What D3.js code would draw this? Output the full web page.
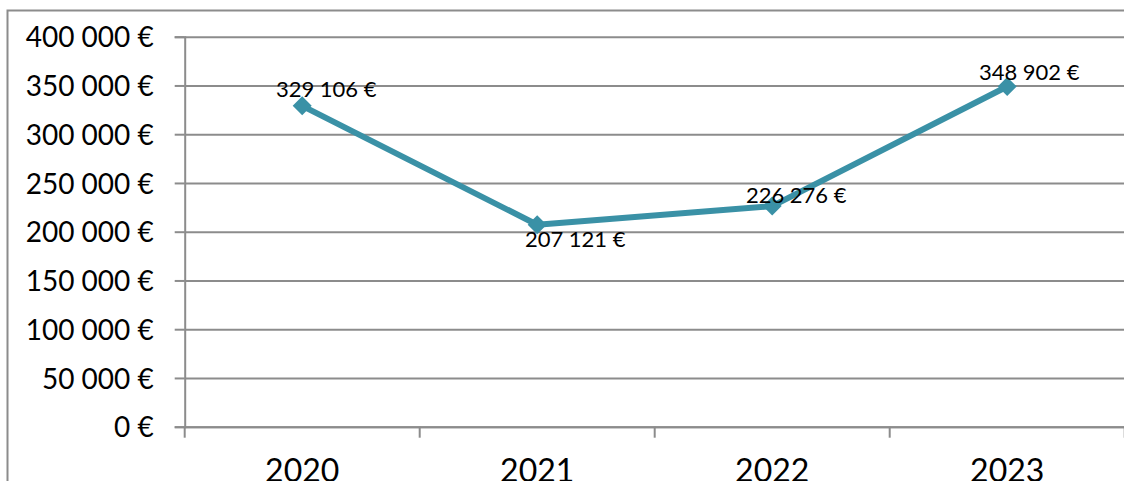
<!DOCTYPE html>
<html>
<head>
<meta charset="utf-8">
<script src="https://cdn.jsdelivr.net/npm/d3@7"></script>
<style>
  body { margin: 0; background: #fff; }
  svg { display: block; }
  svg text { font-family: Lato, "Open Sans", sans-serif; }
</style>
</head>
<body>
<div id="chart"></div>
<script>
// data
const years = ["2020", "2021", "2022", "2023"]
const revenue = [329106, 207121, 226276, 348902]
const yTicks = [0, 50000, 100000, 150000, 200000, 250000, 300000, 350000, 400000]

// label offsets (layout only)
const labelDx = [24, 38, 24, 22]
const labelDy = [-9, 22, -3, -7]

const W = 1124, H = 481
const plot = {left: 184.7, right: 1124.7, top: 36.7, bottom: 426.7}

const loc = d3.formatLocale({decimal: ",", thousands: "\u00a0", grouping: [3], currency: ["", "\u00a0€"]})
const fmt = loc.format("$,.0f")

const svg = d3.select("#chart").append("svg")
    .attr("width", W)
    .attr("height", H)

// outer frame
svg.append("rect")
    .attr("x", 7.5).attr("y", 10.5)
    .attr("width", W + 20).attr("height", H + 20)
    .attr("fill", "none")
    .attr("stroke", "#8c8c8c")
    .attr("stroke-width", 2)

const x = d3.scaleBand().domain(years).range([plot.left, plot.right])
const y = d3.scaleLinear().domain([0, 400000]).range([plot.bottom, plot.top])

// grid
svg.append("g")
    .attr("transform", `translate(${plot.left},0)`)
    .call(d3.axisLeft(y).tickValues(yTicks).tickSize(-(plot.right - plot.left)).tickFormat(""))
    .call(g => g.select(".domain").remove())
    .call(g => g.selectAll("line").attr("stroke", "#8c8c8c").attr("stroke-width", 2))

// y axis
const yAxis = svg.append("g")
    .attr("transform", `translate(${plot.left},0)`)
    .call(d3.axisLeft(y).tickValues(yTicks).tickSize(10).tickPadding(21).tickFormat(fmt))
    .attr("font-family", null)
yAxis.select(".domain").attr("stroke", "#8c8c8c").attr("stroke-width", 2)
yAxis.selectAll("line").attr("stroke", "#8c8c8c").attr("stroke-width", 2)
yAxis.selectAll("text")
    .attr("fill", "#000")
    .attr("font-size", 28)
    .attr("dy", "0.36em")

// x axis
const xAxis = svg.append("g")
    .attr("transform", `translate(0,${plot.bottom})`)
    .call(d3.axisBottom(x).tickSize(0).tickPadding(0))
    .attr("font-family", null)
xAxis.select(".domain").attr("stroke", "#8c8c8c").attr("stroke-width", 2)
xAxis.selectAll("text")
    .attr("fill", "#000")
    .attr("font-size", 32)
    .attr("y", 55)
    .attr("dy", 0)
// tick marks between categories
xAxis.selectAll(".sep")
    .data(d3.range(years.length + 1))
    .join("line")
    .attr("class", "sep")
    .attr("x1", i => plot.left + i * x.step())
    .attr("x2", i => plot.left + i * x.step())
    .attr("y1", 0).attr("y2", 11)
    .attr("stroke", "#8c8c8c")
    .attr("stroke-width", 2)

const cx = d => x(d) + x.bandwidth() / 2
const color = "#3a91a6"

const line = d3.line()
    .x((d, i) => cx(years[i]))
    .y(d => y(d))

svg.append("path")
    .datum(revenue)
    .attr("d", line)
    .attr("fill", "none")
    .attr("stroke", color)
    .attr("stroke-width", 6)
    .attr("stroke-linejoin", "round")

svg.append("g")
    .selectAll("path")
    .data(revenue)
    .join("path")
    .attr("d", d3.symbol(d3.symbolDiamond2, 230))
    .attr("transform", (d, i) => `translate(${cx(years[i])},${y(d)})`)
    .attr("fill", color)

svg.append("g")
    .selectAll("text")
    .data(revenue)
    .join("text")
    .attr("x", (d, i) => cx(years[i]) + labelDx[i])
    .attr("y", (d, i) => y(d) + labelDy[i])
    .attr("text-anchor", "middle")
    .attr("font-size", 22)
    .attr("fill", "#000")
    .text(d => fmt(d))
</script>
</body>
</html>
